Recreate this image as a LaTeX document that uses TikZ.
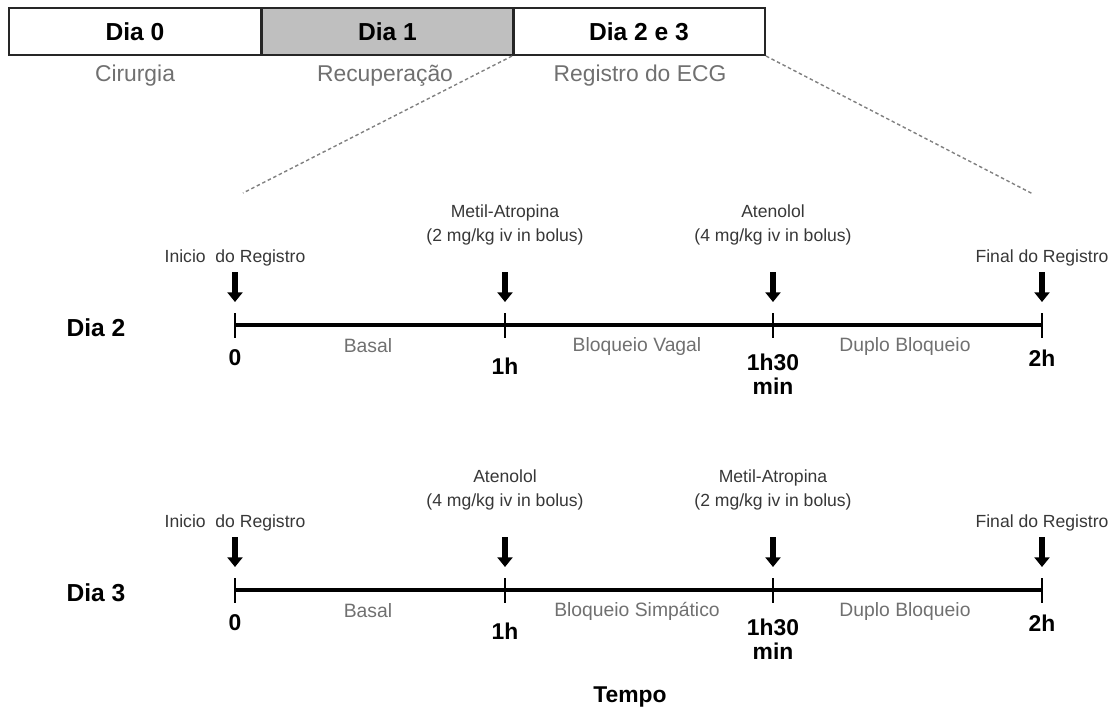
\documentclass[tikz,border=0pt]{standalone}
\usepackage{fontspec}
\setmainfont{Liberation Sans}
\usetikzlibrary{arrows.meta}

\definecolor{boxgray}{RGB}{191,191,191}
\definecolor{txtgray}{RGB}{112,112,112}
\definecolor{notegray}{RGB}{55,55,55}

\begin{document}
\begin{tikzpicture}[x=0.02cm,y=-0.02cm,
  daybox/.style={draw=black!85,line width=1.2pt,minimum width=5.04cm,minimum height=0.94cm,
    inner sep=0pt,font=\fontsize{14}{16}\selectfont\bfseries},
  phase/.style={text=txtgray,font=\fontsize{13}{15}\selectfont},
  note/.style={text=notegray,font=\fontsize{10}{13.6}\selectfont,align=center},
  seglab/.style={text=txtgray,font=\fontsize{11}{13}\selectfont},
  tlab/.style={font=\fontsize{13}{13.6}\selectfont\bfseries,align=center},
  daylab/.style={font=\fontsize{14}{16}\selectfont\bfseries},
  dose/.style={line width=3.4pt,-{Triangle[width=8.5pt,length=5.5pt]}},
  axis/.style={line width=1.8pt},
  tk/.style={line width=1.4pt},
  zoomline/.style={gray,line width=0.8pt,dash pattern=on 2pt off 1.5pt}]

  \useasboundingbox (0,0) rectangle (1111,711);

  % protocol days
  \node[daybox] (dia0) at (135,31.5) {Dia 0};
  \node[daybox,fill=boxgray] (dia1) at (387.5,31.5) {Dia 1};
  \node[daybox] (dia23) at (639,31.5) {Dia 2 e 3};
  \node[phase] (cir) at (135,76) {Cirurgia};
  \node[phase] (rec) at (385,76) {Recuperação};
  \node[phase] (reg) at (640,76) {Registro do ECG};

  % zoom lines
  \coordinate (zl) at (243,193);
  \coordinate (zr) at (1033,194);
  \draw[zoomline] (dia23.south west) -- (zl);
  \draw[zoomline] (dia23.south east) -- (zr);

  % Dia 2
  \node[daylab] (d2) at (96,328) {Dia 2};
  \coordinate (a0) at (235,325);
  \coordinate (a1) at (505,325);
  \coordinate (a2) at (773,325);
  \coordinate (a3) at (1042,325);
  \draw[axis] (a0) -- (a3);
  \foreach \p in {a0,a1,a2,a3} {
    \draw[tk] (\p) ++(0,-12) -- ++(0,25);
    \draw[dose] (\p) ++(0,-53) -- ++(0,30);
  }
  \node[note] (ini2) at (235,258) {Inicio\ \ do Registro};
  \node[note] (metA2) at (505,225) {Metil-Atropina\\(2 mg/kg iv in bolus)};
  \node[note] (aten2) at (773,225) {Atenolol\\(4 mg/kg iv in bolus)};
  \node[note] (fin2) at (1042,258) {Final do Registro};
  \node[tlab] (t0a) at (235,358) {0};
  \node[tlab] (t1a) at (505,366) {1h};
  \node[tlab] (t2a) at (773,374) {1h30\\min};
  \node[tlab] (t3a) at (1042,358) {2h};
  \node[seglab] (bas2) at (368,346) {Basal};
  \node[seglab] (vag2) at (637,346) {Bloqueio Vagal};
  \node[seglab] (dup2) at (905,346) {Duplo Bloqueio};

  % Dia 3
  \node[daylab] (d3) at (96,593) {Dia 3};
  \coordinate (b0) at (235,590);
  \coordinate (b1) at (505,590);
  \coordinate (b2) at (773,590);
  \coordinate (b3) at (1042,590);
  \draw[axis] (b0) -- (b3);
  \foreach \p in {b0,b1,b2,b3} {
    \draw[tk] (\p) ++(0,-12) -- ++(0,25);
    \draw[dose] (\p) ++(0,-53) -- ++(0,30);
  }
  \node[note] (ini3) at (235,523) {Inicio\ \ do Registro};
  \node[note] (aten3) at (505,490) {Atenolol\\(4 mg/kg iv in bolus)};
  \node[note] (metA3) at (773,490) {Metil-Atropina\\(2 mg/kg iv in bolus)};
  \node[note] (fin3) at (1042,523) {Final do Registro};
  \node[tlab] (t0b) at (235,623) {0};
  \node[tlab] (t1b) at (505,631) {1h};
  \node[tlab] (t2b) at (773,639) {1h30\\min};
  \node[tlab] (t3b) at (1042,623) {2h};
  \node[seglab] (bas3) at (368,611) {Basal};
  \node[seglab] (simp3) at (637,611) {Bloqueio Simpático};
  \node[seglab] (dup3) at (905,611) {Duplo Bloqueio};

  \node[tlab] (tempo) at (630,697) {Tempo};
\end{tikzpicture}
\end{document}
